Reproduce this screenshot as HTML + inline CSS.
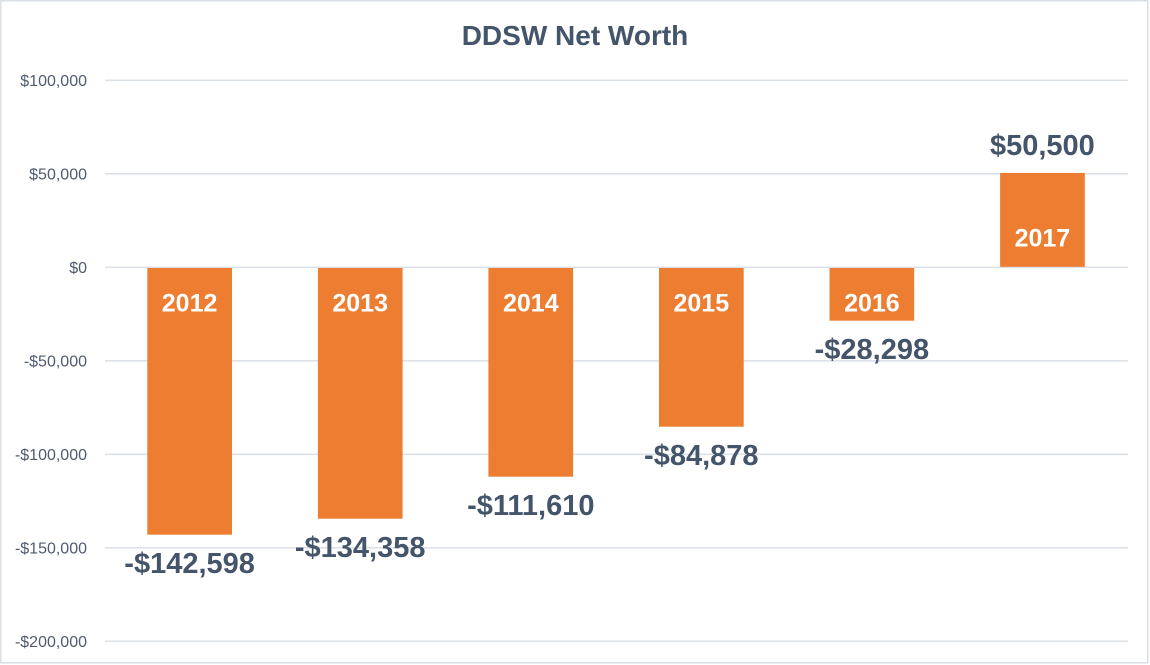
<!DOCTYPE html>
<html>
<head>
<meta charset="utf-8">
<style>
  html, body { margin:0; padding:0; background:#ffffff; }
  body { width:1150px; height:665px; overflow:hidden; }
  svg { display:block; font-family:"Liberation Sans", sans-serif; }
</style>
</head>
<body>
<svg width="1150" height="665" viewBox="0 0 1150 665" xmlns="http://www.w3.org/2000/svg">
  <rect x="0" y="0" width="1150" height="665" fill="#ffffff"/>
  <rect x="0.75" y="0.75" width="1147" height="662" fill="none" stroke="#dadfe6" stroke-width="1.5"/>

  <!-- title -->
  <text x="575" y="45" text-anchor="middle" font-size="28" font-weight="bold" fill="#44546a">DDSW Net Worth</text>

  <!-- gridlines -->
  <g stroke="#dde1e8" stroke-width="1.6">
    <line x1="105" y1="80.3" x2="1128" y2="80.3"/>
    <line x1="105" y1="173.8" x2="1128" y2="173.8"/>
    <line x1="105" y1="267.3" x2="1128" y2="267.3"/>
    <line x1="105" y1="360.8" x2="1128" y2="360.8"/>
    <line x1="105" y1="454.3" x2="1128" y2="454.3"/>
    <line x1="105" y1="547.8" x2="1128" y2="547.8"/>
    <line x1="105" y1="641.3" x2="1128" y2="641.3"/>
  </g>

  <!-- axis labels -->
  <g font-size="16" fill="#4f5b6e" text-anchor="end">
    <text x="87" y="86">$100,000</text>
    <text x="87" y="179.5">$50,000</text>
    <text x="87" y="273">$0</text>
    <text x="87" y="366.5">-$50,000</text>
    <text x="87" y="460">-$100,000</text>
    <text x="87" y="553.5">-$150,000</text>
    <text x="87" y="647">-$200,000</text>
  </g>

  <!-- bars -->
  <g fill="#ed7d31">
    <rect x="147.3" y="268" width="84.7" height="266.7"/>
    <rect x="317.9" y="268" width="84.7" height="250.7"/>
    <rect x="488.4" y="268" width="84.7" height="208.7"/>
    <rect x="659" y="268" width="84.7" height="158.7"/>
    <rect x="829.5" y="268" width="84.7" height="52.7"/>
    <rect x="1000.1" y="172.9" width="84.7" height="93.9"/>
  </g>

  <!-- year labels inside bars -->
  <g font-size="25" font-weight="bold" fill="#ffffff" text-anchor="middle">
    <text x="189.6" y="311.6">2012</text>
    <text x="360.2" y="311.6">2013</text>
    <text x="530.8" y="311.6">2014</text>
    <text x="701.3" y="311.6">2015</text>
    <text x="871.9" y="311.6">2016</text>
    <text x="1042.4" y="246.7">2017</text>
  </g>

  <!-- value labels -->
  <g font-size="29" font-weight="bold" fill="#44546a" text-anchor="middle">
    <text x="189.6" y="573.2">-$142,598</text>
    <text x="360.2" y="557.1">-$134,358</text>
    <text x="530.8" y="514.8">-$111,610</text>
    <text x="701.3" y="465.2">-$84,878</text>
    <text x="871.9" y="359.1">-$28,298</text>
    <text x="1042.4" y="155">$50,500</text>
  </g>
</svg>
</body>
</html>
